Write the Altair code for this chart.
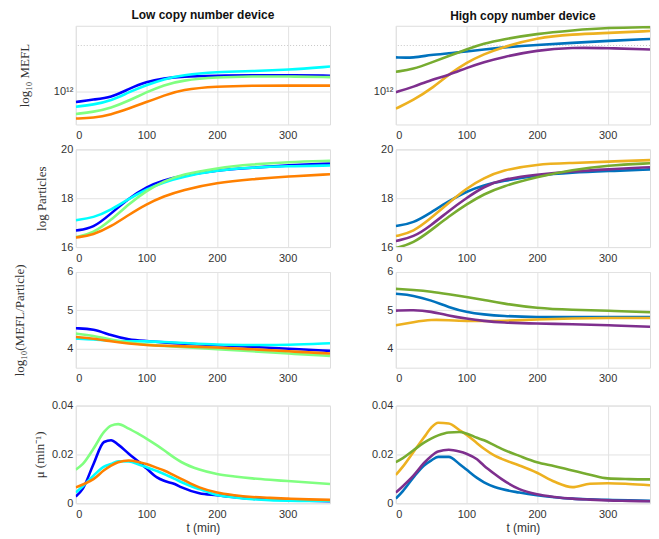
import altair as alt
import pandas as pd

# ---------------- data ----------------
T = [0, 25, 50, 75, 100, 125, 150, 200, 250, 300, 360]
T_MU = [0, 10, 25, 40, 50, 60, 75, 90, 100, 115, 125, 140, 150, 175, 200, 225, 250, 275, 300, 330, 360]

LOW_NAMES = ["low_blue", "low_cyan", "low_green", "low_orange"]
LOW_COLORS = ["#0000FF", "#00FFFF", "#80FF80", "#FF8000"]
HIGH_NAMES = ["high_blue", "high_yellow", "high_purple", "high_green"]
HIGH_COLORS = ["#0072BD", "#EDB120", "#7E2F8E", "#77AC30"]

# row 1: log10 MEFL
MEFL_LOW_BLUE = [11.84, 11.88, 11.91, 12.04, 12.15, 12.20, 12.23, 12.24, 12.25, 12.25, 12.24]
MEFL_LOW_CYAN = [11.77, 11.80, 11.86, 11.99, 12.10, 12.19, 12.25, 12.30, 12.31, 12.33, 12.38]
MEFL_LOW_GREEN = [11.66, 11.69, 11.75, 11.86, 11.99, 12.10, 12.17, 12.22, 12.23, 12.23, 12.22]
MEFL_LOW_ORANGE = [11.59, 11.60, 11.65, 11.74, 11.84, 11.94, 12.03, 12.08, 12.09, 12.09, 12.09]
MEFL_HIGH_BLUE = [12.52, 12.51, 12.56, 12.58, 12.61, 12.64, 12.67, 12.71, 12.74, 12.77, 12.80]
MEFL_HIGH_YELLOW = [11.74, 11.87, 12.04, 12.26, 12.44, 12.57, 12.67, 12.82, 12.87, 12.89, 12.92]
MEFL_HIGH_PURPLE = [11.99, 12.07, 12.18, 12.25, 12.36, 12.45, 12.52, 12.63, 12.67, 12.66, 12.64]
MEFL_HIGH_GREEN = [12.30, 12.34, 12.44, 12.54, 12.64, 12.73, 12.79, 12.88, 12.93, 12.97, 12.98]

# row 2: log Particles
PART_LOW_BLUE = [16.68, 16.77, 17.38, 17.99, 18.47, 18.74, 18.92, 19.15, 19.25, 19.35, 19.42]
PART_LOW_CYAN = [17.10, 17.20, 17.52, 17.98, 18.36, 18.66, 18.87, 19.15, 19.26, 19.31, 19.34]
PART_LOW_GREEN = [16.41, 16.57, 17.11, 17.76, 18.31, 18.70, 18.97, 19.24, 19.39, 19.48, 19.53]
PART_LOW_ORANGE = [16.39, 16.50, 16.84, 17.32, 17.76, 18.08, 18.33, 18.64, 18.78, 18.89, 18.98]
PART_HIGH_BLUE = [16.86, 16.98, 17.42, 17.88, 18.28, 18.54, 18.70, 18.94, 19.05, 19.11, 19.18]
PART_HIGH_YELLOW = [16.45, 16.62, 17.19, 17.81, 18.41, 18.83, 19.14, 19.40, 19.44, 19.50, 19.56]
PART_HIGH_PURPLE = [16.25, 16.40, 16.89, 17.48, 18.01, 18.48, 18.77, 18.97, 19.10, 19.18, 19.27]
PART_HIGH_GREEN = [15.96, 16.16, 16.69, 17.25, 17.75, 18.17, 18.48, 18.87, 19.17, 19.34, 19.43]

# row 3: log10(MEFL/Particle)
RATIO_LOW_BLUE = [4.53, 4.52, 4.34, 4.23, 4.20, 4.16, 4.13, 4.09, 4.04, 4.00, 3.94]
RATIO_LOW_CYAN = [4.26, 4.24, 4.20, 4.19, 4.19, 4.17, 4.15, 4.10, 4.09, 4.09, 4.14]
RATIO_LOW_GREEN = [4.39, 4.34, 4.23, 4.15, 4.10, 4.07, 4.04, 3.98, 3.93, 3.87, 3.81]
RATIO_LOW_ORANGE = [4.30, 4.26, 4.19, 4.13, 4.09, 4.07, 4.06, 4.03, 3.98, 3.93, 3.87]
RATIO_HIGH_BLUE = [5.43, 5.39, 5.26, 5.08, 4.95, 4.89, 4.85, 4.82, 4.82, 4.82, 4.82]
RATIO_HIGH_YELLOW = [4.61, 4.69, 4.76, 4.74, 4.72, 4.72, 4.72, 4.76, 4.79, 4.80, 4.80]
RATIO_HIGH_PURPLE = [4.99, 5.01, 4.97, 4.86, 4.78, 4.72, 4.68, 4.65, 4.64, 4.61, 4.57]
RATIO_HIGH_GREEN = [5.56, 5.53, 5.49, 5.42, 5.35, 5.27, 5.18, 5.05, 5.01, 4.99, 4.95]

# row 4: growth rate mu (1/min)
MU_LOW_BLUE = [0.0028, 0.0060, 0.0160, 0.0251, 0.0258, 0.0240, 0.0203, 0.0168, 0.0143, 0.0106, 0.0092,
               0.0079, 0.0065, 0.0041, 0.0033, 0.0025, 0.0019, 0.0016, 0.0014, 0.0011, 0.0008]
MU_LOW_CYAN = [0.0044, 0.0070, 0.0113, 0.0150, 0.0161, 0.0172, 0.0171, 0.0158, 0.0148, 0.0132, 0.0120,
               0.0100, 0.0086, 0.0058, 0.0034, 0.0024, 0.0017, 0.0013, 0.0011, 0.0010, 0.0010]
MU_LOW_GREEN = [0.0138, 0.0161, 0.0223, 0.0292, 0.0318, 0.0324, 0.0306, 0.0282, 0.0265, 0.0237, 0.0217,
                0.0186, 0.0168, 0.0138, 0.0120, 0.0110, 0.0102, 0.0096, 0.0091, 0.0085, 0.0079]
MU_LOW_ORANGE = [0.0065, 0.0077, 0.0099, 0.0135, 0.0154, 0.0168, 0.0175, 0.0168, 0.0161, 0.0145, 0.0134,
                 0.0113, 0.0099, 0.0065, 0.0044, 0.0033, 0.0026, 0.0022, 0.0019, 0.0016, 0.0014]
MU_HIGH_BLUE = [0.0019, 0.0050, 0.0106, 0.0155, 0.0175, 0.0190, 0.0190, 0.0161, 0.0138, 0.0104, 0.0086,
                0.0067, 0.0058, 0.0044, 0.0033, 0.0025, 0.0019, 0.0016, 0.0014, 0.0012, 0.0010]
MU_HIGH_YELLOW = [0.0116, 0.0150, 0.0210, 0.0270, 0.0309, 0.0330, 0.0327, 0.0300, 0.0281, 0.0246, 0.0223,
                  0.0195, 0.0182, 0.0155, 0.0125, 0.0088, 0.0066, 0.0080, 0.0082, 0.0079, 0.0074]
MU_HIGH_PURPLE = [0.0044, 0.0070, 0.0113, 0.0165, 0.0193, 0.0212, 0.0219, 0.0212, 0.0203, 0.0180, 0.0154,
                  0.0120, 0.0099, 0.0058, 0.0037, 0.0026, 0.0019, 0.0015, 0.0012, 0.0010, 0.0008]
MU_HIGH_GREEN = [0.0168, 0.0185, 0.0217, 0.0248, 0.0265, 0.0278, 0.0290, 0.0292, 0.0286, 0.0268, 0.0258,
                 0.0237, 0.0223, 0.0194, 0.0168, 0.0152, 0.0134, 0.0117, 0.0102, 0.0099, 0.0098]

X_TICKS = [0, 100, 200, 300]
COL_TITLES = ["Low copy number device", "High copy number device"]
ROW_TITLES = ["log₁₀ MEFL", "log Particles", "log₁₀(MEFL/Particle)", "μ (min⁻¹)"]
ROW_DOMAINS = [[11.5, 13.0], [16, 20], [3.5, 6], [0, 0.04]]
ROW_TICKS = [[12], [16, 18, 20], [4, 5, 6], [0, 0.02, 0.04]]
ROW_TITLE_X = [-51, -34, -56, -36]
ROW_HEIGHTS = [99, 98, 96, 98]
ROW_CURVE = ["basis", "basis", "basis", "monotone"]
MEFL_MINOR_GRID = [12.7]

ROWS = [
    (T, [MEFL_LOW_BLUE, MEFL_LOW_CYAN, MEFL_LOW_GREEN, MEFL_LOW_ORANGE],
        [MEFL_HIGH_BLUE, MEFL_HIGH_YELLOW, MEFL_HIGH_PURPLE, MEFL_HIGH_GREEN]),
    (T, [PART_LOW_BLUE, PART_LOW_CYAN, PART_LOW_GREEN, PART_LOW_ORANGE],
        [PART_HIGH_BLUE, PART_HIGH_YELLOW, PART_HIGH_PURPLE, PART_HIGH_GREEN]),
    (T, [RATIO_LOW_BLUE, RATIO_LOW_CYAN, RATIO_LOW_GREEN, RATIO_LOW_ORANGE],
        [RATIO_HIGH_BLUE, RATIO_HIGH_YELLOW, RATIO_HIGH_PURPLE, RATIO_HIGH_GREEN]),
    (T_MU, [MU_LOW_BLUE, MU_LOW_CYAN, MU_LOW_GREEN, MU_LOW_ORANGE],
        [MU_HIGH_BLUE, MU_HIGH_YELLOW, MU_HIGH_PURPLE, MU_HIGH_GREEN]),
]

ALL_NAMES = LOW_NAMES + HIGH_NAMES
ALL_COLORS = LOW_COLORS + HIGH_COLORS

W = 255
LABEL_FONT = "Liberation Sans"
TITLE_FONT = "Liberation Serif"


def make_panel(r, side):
    tgrid, low, high = ROWS[r]
    names = LOW_NAMES if side == 0 else HIGH_NAMES
    series = low if side == 0 else high
    recs = []
    for nm, vals in zip(names, series):
        for t, v in zip(tgrid, vals):
            recs.append({"t": t, "v": v, "s": nm})
    df = pd.DataFrame(recs)
    bottom = r == 3

    x_axis = alt.Axis(
        values=X_TICKS, grid=True, gridColor="#e2e2e2", ticks=False, domain=False,
        labelFont=LABEL_FONT, labelFontSize=11, labelColor="#333", labelPadding=5,
        title="t (min)" if bottom else None, titleFont=LABEL_FONT, titleFontSize=12,
        titleFontWeight="normal", titleColor="#333", titlePadding=3,
    )
    y_kwargs = dict(
        values=ROW_TICKS[r], grid=True, gridColor="#e2e2e2", ticks=False, domain=False,
        labelFont=LABEL_FONT, labelFontSize=11, labelColor="#333", labelPadding=3,
    )
    if r == 0:
        y_kwargs["labelExpr"] = "'10¹²'"
    if r == 3:
        y_kwargs["format"] = "~g"
    if side == 0:
        y_kwargs.update(
            title=ROW_TITLES[r], titleX=ROW_TITLE_X[r], titleBaseline="middle",
            titleFont=TITLE_FONT, titleFontSize=13, titleFontWeight="normal",
            titleColor="#333",
        )
    else:
        y_kwargs.update(title=None)
    y_axis = alt.Axis(**y_kwargs)

    xs = alt.Scale(domain=[0, 360], nice=False, zero=False)
    ys = alt.Scale(domain=ROW_DOMAINS[r], nice=False, zero=False)

    layers = []
    if r == 0:
        layers.append(
            alt.Chart(pd.DataFrame({"v": MEFL_MINOR_GRID}))
            .mark_rule(color="#c8c8c8", strokeDash=[1, 2], strokeWidth=1)
            .encode(y=alt.Y("v:Q", scale=ys, axis=y_axis))
        )
    layers.append(
        alt.Chart(df)
        .mark_line(interpolate=ROW_CURVE[r], strokeWidth=2.6, clip=True)
        .encode(
            x=alt.X("t:Q", scale=xs, axis=x_axis),
            y=alt.Y("v:Q", scale=ys, axis=y_axis),
            color=alt.Color("s:N", scale=alt.Scale(domain=ALL_NAMES, range=ALL_COLORS), legend=None),
            order=alt.Order("t:Q"),
        )
    )
    if side == 0:
        layers.append(
            alt.Chart(pd.DataFrame({"a": [0]}))
            .mark_rule(color="white", strokeWidth=1)
            .encode(x=alt.value(-66.5), y=alt.value(0), y2=alt.value(1))
        )
    ch = alt.layer(*layers).properties(width=W, height=ROW_HEIGHTS[r])
    if r == 0:
        ch = ch.properties(
            title=alt.TitleParams(
                COL_TITLES[side], fontSize=12, fontWeight="bold", font=LABEL_FONT,
                color="#111", offset=3, anchor="middle",
            )
        )
    return ch


upper = alt.concat(
    *[make_panel(r, s) for r in range(3) for s in range(2)],
    columns=2, spacing={"row": 25, "column": 66}, bounds="flush",
)
lower = alt.hconcat(make_panel(3, 0), make_panel(3, 1), spacing=66, bounds="flush")
chart = (
    alt.vconcat(upper, lower, spacing=14)
    .properties(padding={"left": 0, "top": 0, "right": 0, "bottom": 0})
    .configure_view(stroke="#5a5a5a", strokeWidth=1)
    .configure(background="white")
)

chart.save("out.html", embed_options={"renderer": "svg", "actions": False})
